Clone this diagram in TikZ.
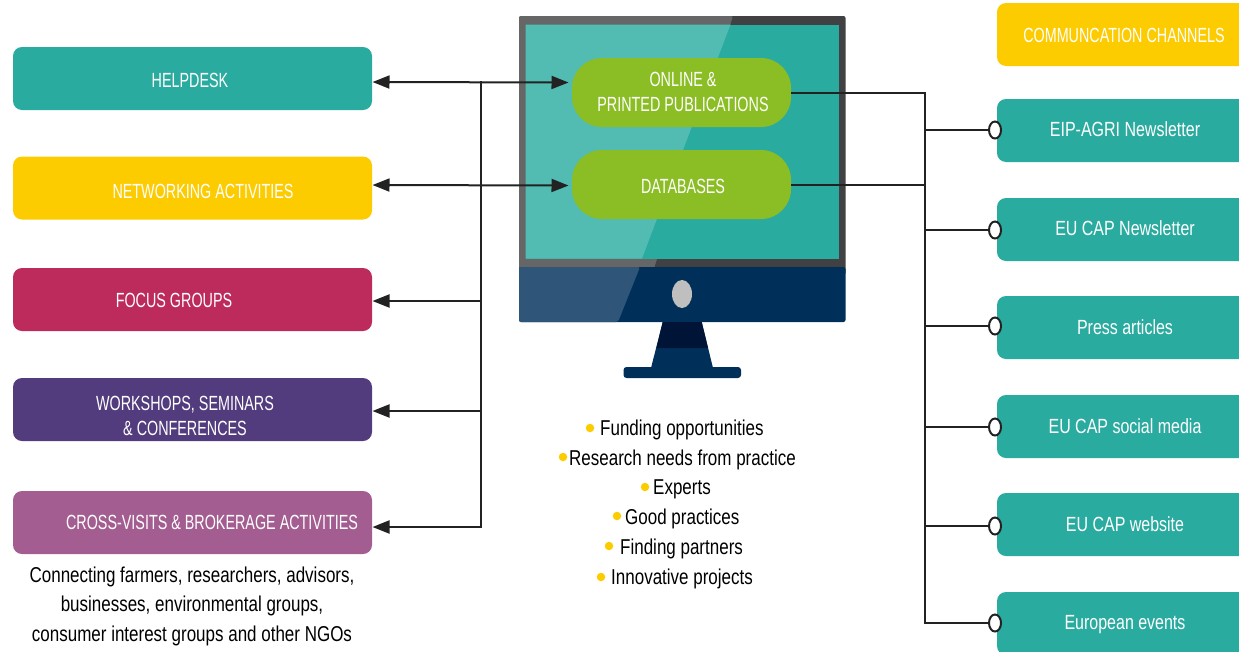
\documentclass[tikz,border=0pt]{standalone}
\usepackage{fontspec}
\usetikzlibrary{arrows.meta,calc,shapes.geometric}
\newfontfamily\narrowfont[FakeStretch=0.70]{Liberation Sans}
\newfontfamily\mixedfont[FakeStretch=0.78]{Liberation Sans}
\newfontfamily\bodyfont[FakeStretch=0.79]{Liberation Sans}
\definecolor{teal1}{HTML}{2AAB9F}
\definecolor{teal2}{HTML}{52BBB2}
\definecolor{yellow1}{HTML}{FCCB00}
\definecolor{crimson1}{HTML}{BC2B5C}
\definecolor{purple1}{HTML}{523C7D}
\definecolor{mauve1}{HTML}{A35D90}
\definecolor{green1}{HTML}{8BBD24}
\definecolor{navy1}{HTML}{00305A}
\definecolor{navy2}{HTML}{2F5678}
\definecolor{navy3}{HTML}{001438}
\definecolor{bez1}{HTML}{666666}
\definecolor{bez2}{HTML}{414042}
\definecolor{wire}{HTML}{222222}
\tikzset{
  x=1pt,y=-1pt,
  leftbox/.style={rounded corners=9pt,minimum width=359pt,minimum height=63pt,inner sep=0pt,draw=none},
  pill/.style={rounded corners=30pt,minimum width=219pt,minimum height=69pt,fill=green1,inner sep=0pt},
  lbl/.style={text=white,font=\narrowfont\fontsize{20.5}{25}\selectfont,align=center,inner sep=0pt},
  mixedlbl/.style={text=white,font=\mixedfont\fontsize{20.5}{25}\selectfont,align=center,inner sep=0pt},
  black text/.style={text=black,font=\bodyfont\fontsize{21.5}{29.5}\selectfont,align=center,inner sep=0pt},
  wireline/.style={draw=wire,line width=2pt},
  biarrow/.style={wireline,{Triangle[length=17pt,width=13pt]}-{Triangle[length=17pt,width=13pt]}},
  onearrow/.style={wireline,{Triangle[length=17pt,width=13pt]}-},
  portdot/.style={ellipse,draw=wire,fill=white,line width=2pt,minimum width=12pt,minimum height=17pt,inner sep=0pt},
  bullet/.style={circle,fill=yellow1,minimum size=8.5pt,inner sep=0pt},
}
\begin{document}
\begin{tikzpicture}
\useasboundingbox (0,0) rectangle (1239,651);
% left boxes
\node[leftbox,fill=teal1] (helpdesk) at (192.5,78.5) {};
\node[leftbox,fill=yellow1] (networking) at (192.5,188) {};
\node[leftbox,fill=crimson1] (focus) at (192.5,299.5) {};
\node[leftbox,fill=purple1] (workshops) at (192.5,409.5) {};
\node[leftbox,fill=mauve1] (cross) at (192.5,522.5) {};
\node[lbl] at (190,80) {HELPDESK};
\node[lbl] at (203,191) {NETWORKING ACTIVITIES};
\node[lbl] at (174,300) {FOCUS GROUPS};
\node[lbl,font=\narrowfont\fontsize{20.5}{25.5}\selectfont] at (185,416) {WORKSHOPS, SEMINARS\\\& CONFERENCES};
\node[lbl] at (212,522.5) {CROSS-VISITS \& BROKERAGE ACTIVITIES};
\node[black text] at (192,606) {Connecting farmers, researchers, advisors,\\businesses, environmental groups,\\consumer interest groups and other NGOs};
% monitor
\fill[bez2,rounded corners=2pt] (519,275) -- (519,16) -- (845.5,16) -- (845.5,275) -- cycle;
\fill[bez1,rounded corners=2pt] (519,275) -- (519,16) -- (733,16) -- (652,275) -- cycle;
\fill[teal1] (525.5,24.5) rectangle (839,258.5);
\fill[teal2] (525.5,24.5) -- (730.5,24.5) -- (642,258.5) -- (525.5,258.5) -- cycle;
\fill[navy1,rounded corners=2pt] (519,267) -- (519,322) -- (845.5,322) -- (845.5,267) -- cycle;
\fill[navy2,rounded corners=2pt] (519,267) -- (519,322) -- (618,322) -- (640,267) -- cycle;
\fill[navy1] (662.7,322) -- (701.7,322) -- (713,368) -- (651,368) -- cycle;
\fill[navy3] (662.7,322) -- (701.7,322) -- (708,348) -- (656.5,348) -- cycle;
\fill[navy1,rounded corners=3pt] (623.5,367) rectangle (741,378);
\fill[black!25] (682,294) ellipse [x radius=10pt,y radius=14pt];
% pills
\node[pill] (online) at (681.5,92.5) {};
\node[pill] (databases) at (681.5,184.5) {};
\node[lbl] at (683,92) {ONLINE \&\\PRINTED PUBLICATIONS};
\node[lbl] at (683,186) {DATABASES};
% bullets list
\node[black text,anchor=west] (t1) at (600,430) {Funding opportunities};
\node[black text,anchor=west] (t2) at (569,459.5) {Research needs from practice};
\node[black text,anchor=west] (t3) at (653,489) {Experts};
\node[black text,anchor=west] (t4) at (625,519) {Good practices};
\node[black text,anchor=west] (t5) at (620,549) {Finding partners};
\node[black text,anchor=west] (t6) at (611,579) {Innovative projects};
\node[bullet] at (590,428) {};
\node[bullet] at (563,457) {};
\node[bullet] at (645,487) {};
\node[bullet] at (617,516) {};
\node[bullet] at (609,546) {};
\node[bullet] at (601,577) {};
% right boxes
\fill[yellow1,rounded corners=9pt] (1250,3) -- (997,3) -- (997,66) -- (1250,66);
\foreach \yt in {99,198,296,395,493,592}
  \fill[teal1,rounded corners=9pt] (1250,\yt) -- (997,\yt) -- (997,\yt+63) -- (1250,\yt+63);
\node[lbl] at (1124,35) {COMMUNCATION CHANNELS};
\node[mixedlbl] (eipt) at (1125,129.5) {EIP-AGRI Newsletter};
\node[mixedlbl] (capt) at (1125,228.5) {EU CAP Newsletter};
\node[mixedlbl] (prt) at (1125,327) {Press articles};
\node[mixedlbl] (sot) at (1125,426) {EU CAP social media};
\node[mixedlbl] (wet) at (1125,524.5) {EU CAP website};
\node[mixedlbl] (evt) at (1125,625) {European events};
% right ports
\node[portdot] (p1) at (995,130) {};
\node[portdot] (p2) at (995,230) {};
\node[portdot] (p3) at (995,326) {};
\node[portdot] (p4) at (995,427) {};
\node[portdot] (p5) at (995,526) {};
\node[portdot] (p6) at (995,623) {};
% right wiring
\coordinate (rbus) at (924.5,92.5);
\draw[wireline] (online.east) -- (rbus |- online.east) -- (rbus |- p6.west) -- (p6.west);
\draw[wireline] (databases.east) -- (rbus |- databases.east);
\foreach \p in {p1,p2,p3,p4,p5}
  \draw[wireline] (rbus |- \p.west) -- (\p.west);
% left wiring
\coordinate (lbus) at (480.5,81);
\coordinate (a1) at (372.5,82);
\coordinate (a2) at (372.5,185);
\coordinate (a3) at (372.5,301);
\coordinate (a4) at (372.5,411);
\coordinate (a5) at (372.5,527);
\coordinate (o1) at (568.5,82.5);
\coordinate (o2) at (568.5,185.5);
\draw[biarrow] (a1) -- (o1);
\draw[biarrow] (a2) -- (o2);
\draw[onearrow] (a3) -- (lbus |- a3);
\draw[onearrow] (a4) -- (lbus |- a4);
\draw[wire,line width=2pt,{Triangle[length=17pt,width=13pt]}-,line join=miter] (a5) -- (lbus |- a5) -- (lbus);
\end{tikzpicture}
\end{document}
